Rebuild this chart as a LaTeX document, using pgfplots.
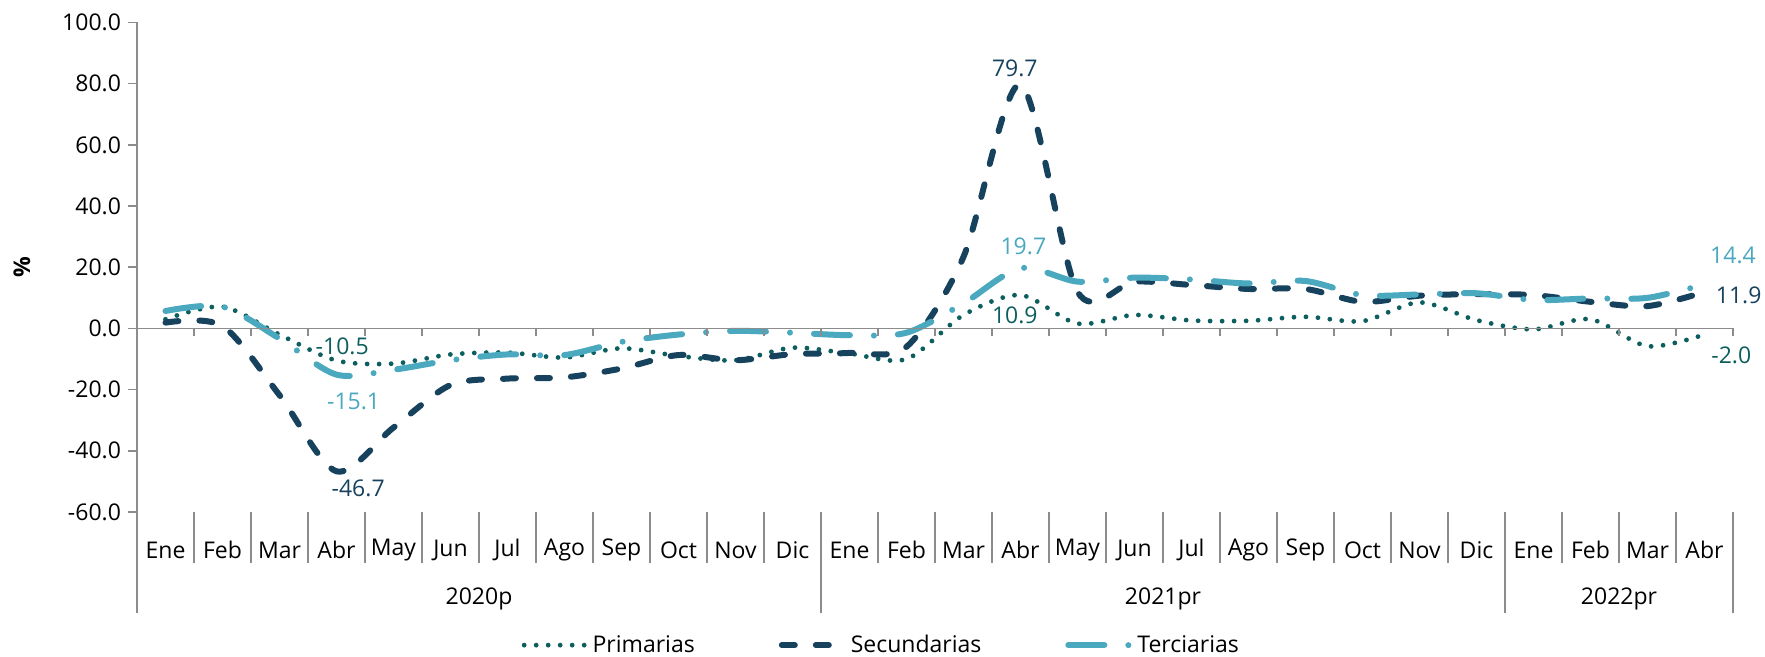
\documentclass[border=0pt]{standalone}
\usepackage{pgfplots}
\pgfplotsset{compat=1.18}
\usepackage{fontspec}
\setmainfont{Open Sans}
\definecolor{cPri}{HTML}{0D5E5E}
\definecolor{cSec}{HTML}{17425E}
\definecolor{cTer}{HTML}{4AA8BF}
\definecolor{cAx}{HTML}{8C8C8C}
\newcommand{\fs}{\fontsize{11.5}{13}\selectfont}
\begin{document}
\begin{tikzpicture}
\useasboundingbox (-68.5pt,-72.5pt) rectangle (814pt,256pt);
\begin{axis}[
 at={(0,0)}, anchor=south west,
 scale only axis, width=798pt, height=244.75pt,
 xmin=-0.5, xmax=27.5, ymin=-60, ymax=100,
 clip=false,
 axis y line*=left, axis x line*=bottom,
 x axis line style={draw=none},
 y axis line style={cAx, line width=0.8pt},
 ytick={-60,-40,...,100},
 xtick={0,...,27},
 xticklabels={Ene,Feb,Mar,Abr,May,Jun,Jul,Ago,Sep,Oct,Nov,Dic,Ene,Feb,Mar,Abr,May,Jun,Jul,Ago,Sep,Oct,Nov,Dic,Ene,Feb,Mar,Abr},
 x tick style={draw=none},
 y tick style={cAx, line width=0.8pt},
 tick align=outside, major tick length=4.5pt,
 x tick label style={font=\fs, anchor=center, yshift=-14.5pt, text=black},
 y tick label style={font=\fs, text=black, /pgf/number format/.cd, fixed, fixed zerofill, precision=1, assume math mode=true},
 ylabel={\textbf{\%}},
 every axis y label/.style={at={(rel axis cs:0,0.5)}, xshift=-57.5pt, rotate=90, anchor=center, font=\fs},
 legend style={at={(0.467,-0.272)}, anchor=center, draw=none, fill=none, legend columns=3, font=\fs,
   /tikz/every even column/.append style={column sep=40pt}},
 legend image code/.code={\draw[#1] (0pt,0pt) -- (31pt,0pt);},
]
\addplot[cPri, line width=2.4pt, line cap=round, dash pattern=on 0pt off 6pt, smooth] coordinates {
(0,3) (1,7.1) (2,-2) (3,-10.5) (4,-11.5) (5,-8.5) (6,-7.9) (7,-9.5) (8,-6.5) (9,-9) (10,-10.4) (11,-6.3)
(12,-8.2) (13,-10) (14,4.4) (15,10.9) (16,1.6) (17,4.4) (18,2.6) (19,2.5) (20,3.8) (21,2.4) (22,8.5) (23,2.7)
(24,-0.3) (25,3) (26,-5.8) (27,-2.0)};
\addlegendentry{Primarias}
\addplot[cSec, line width=3pt, line cap=round, dash pattern=on 6.5pt off 10.5pt, smooth] coordinates {
(0,1.9) (1,0.8) (2,-21.8) (3,-46.7) (4,-32.4) (5,-18.5) (6,-16.4) (7,-16) (8,-13.1) (9,-8.7) (10,-10.4) (11,-8.4)
(12,-8) (13,-6) (14,23.4) (15,79.7) (16,12) (17,15.3) (18,14.2) (19,12.9) (20,12.9) (21,8.7) (22,10.7) (23,11.2)
(24,10.9) (25,8.7) (26,7.3) (27,11.9)};
\addlegendentry{Secundarias}
\addplot[cTer, line width=3pt, line cap=round, dash pattern=on 18pt off 12pt on 0pt off 12pt, smooth] coordinates {
(0,5.7) (1,7.1) (2,-3.3) (3,-15.1) (4,-13.5) (5,-10.4) (6,-8.5) (7,-8.7) (8,-4.4) (9,-2) (10,-0.8) (11,-1.4)
(12,-2.2) (13,-1.4) (14,8.2) (15,19.7) (16,15.3) (17,16.6) (18,16) (19,14.7) (20,15.5) (21,10.9) (22,11.1) (23,11.5)
(24,9.3) (25,9.8) (26,10) (27,14.4)};
\addlegendentry{Terciarias}
% zero line and boundary ticks
\draw[cAx, line width=0.8pt] (axis cs:-0.5,0) -- (axis cs:27.5,0);
\pgfplotsinvokeforeach{0.5,1.5,2.5,3.5,4.5,5.5,6.5,7.5,8.5,9.5,10.5,11.5,12.5,13.5,14.5,15.5,16.5,17.5,18.5,19.5,20.5,21.5,22.5,23.5,24.5,25.5,26.5,27.5}{
  \draw[cAx, line width=0.8pt] (axis cs:#1,0) -- ++(0pt,-4pt);
  \draw[cAx, line width=0.6pt] (axis cs:#1,-60) -- ++(0pt,-25.5pt);
}
\pgfplotsinvokeforeach{-0.5,11.5,23.5,27.5}{
  \draw[cAx, line width=0.6pt] (axis cs:#1,-60) -- ++(0pt,-50.5pt);
}
\node[font=\fs] at (axis cs:5.5,-60) [yshift=-43.5pt] {2020p};
\node[font=\fs] at (axis cs:17.5,-60) [yshift=-43.5pt] {2021pr};
\node[font=\fs] at (axis cs:25.5,-60) [yshift=-43.5pt] {2022pr};
% data labels
\node[font=\fs, text=cPri] at (axis cs:3.1,-6) {-10.5};
\node[font=\fs, text=cTer] at (axis cs:3.3,-24) {-15.1};
\node[font=\fs, text=cSec] at (axis cs:3.38,-52.4) {-46.7};
\node[font=\fs, text=cSec] at (axis cs:14.9,85.1) {79.7};
\node[font=\fs, text=cTer] at (axis cs:15.05,26.7) {19.7};
\node[font=\fs, text=cPri] at (axis cs:14.9,4.4) {10.9};
\node[font=\fs, text=cTer] at (axis cs:27.5,24) {14.4};
\node[font=\fs, text=cSec] at (axis cs:27.6,10.9) {11.9};
\node[font=\fs, text=cPri] at (axis cs:27.47,-8.7) {-2.0};
\end{axis}
\end{tikzpicture}
\end{document}
